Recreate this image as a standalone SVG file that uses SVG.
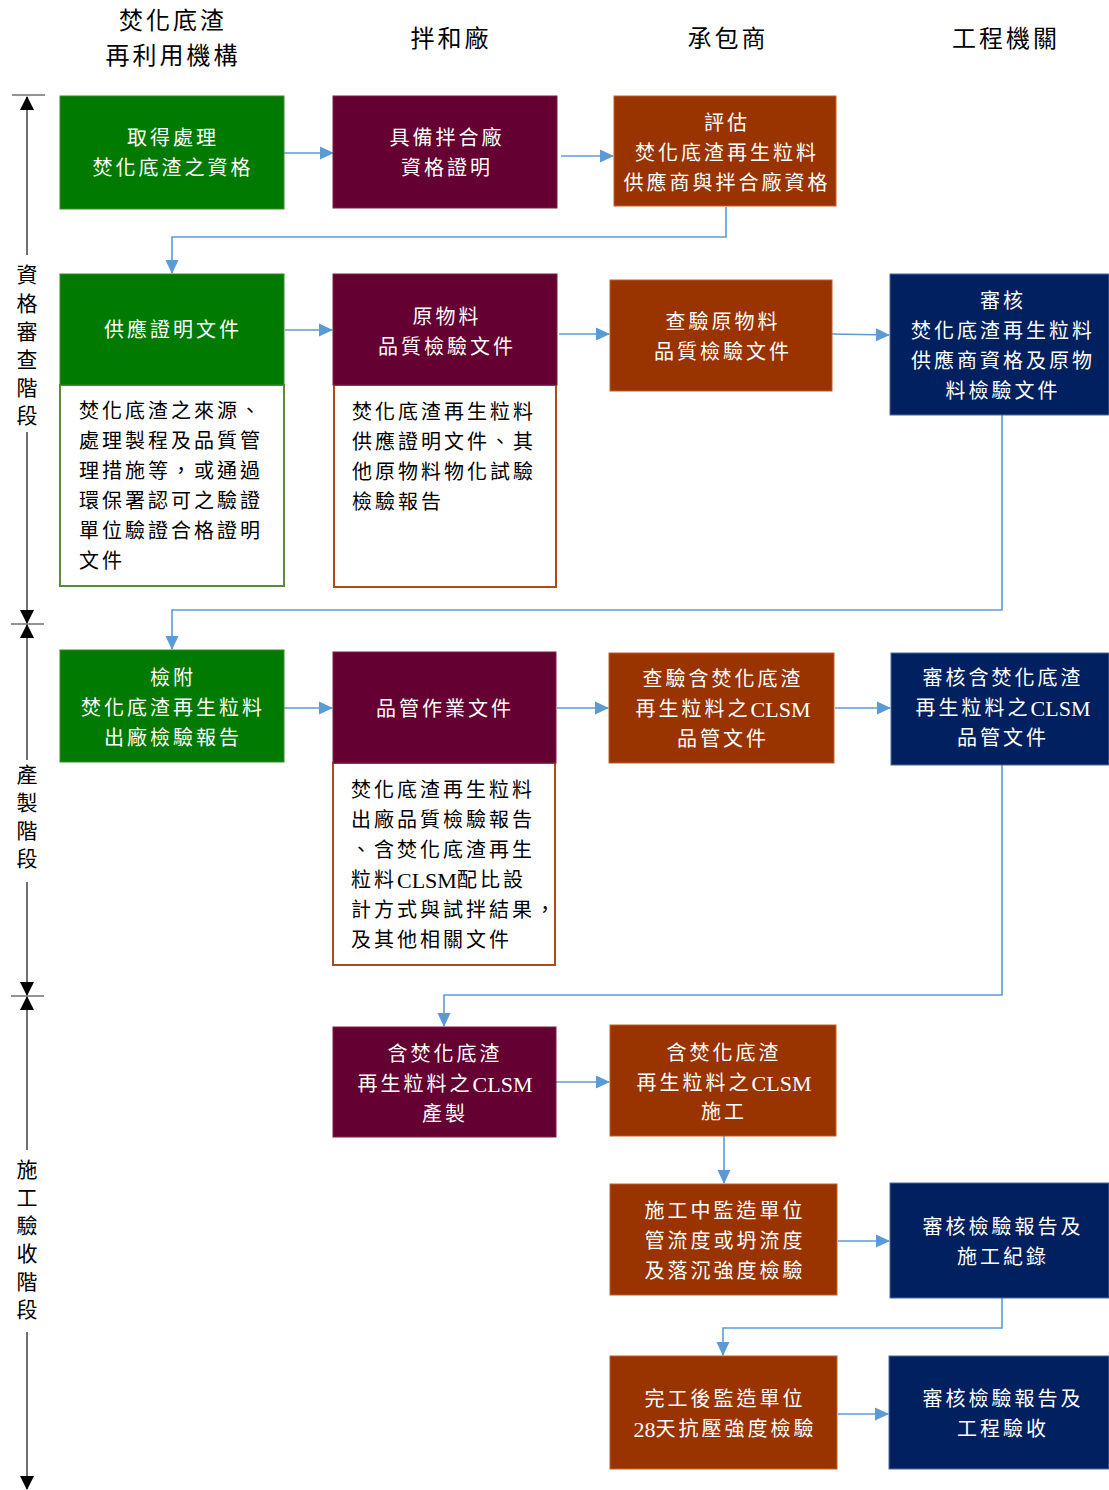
<svg xmlns="http://www.w3.org/2000/svg" width="1109" height="1490" viewBox="0 0 1109 1490">
<defs>
<style>
text{font-family:"Liberation Serif","Noto Sans CJK TC",serif;}
.hd{font-size:24px;fill:#000;text-anchor:middle;letter-spacing:3px;}
.nt{font-size:20px;fill:#fff;text-anchor:middle;letter-spacing:3px;dominant-baseline:central;}
.bt{font-size:20px;fill:#000;letter-spacing:3px;dominant-baseline:central;}
.ax{font-size:21px;fill:#000;text-anchor:middle;dominant-baseline:central;}
.lt{letter-spacing:0;font-size:22px;}
.g{fill:#007A00;stroke:#3F8A2A;stroke-width:1;}
.m{fill:#640032;stroke:#7a2040;stroke-width:1;}
.o{fill:#993300;stroke:#C0602A;stroke-width:1;}
.n{fill:#00205F;stroke:#4A6AA0;stroke-width:1;}
.wg{fill:#fff;stroke:#5A8A3A;stroke-width:2;}
.wo{fill:#fff;stroke:#B04A1A;stroke-width:2;}
.c{fill:none;stroke:#5B9BD5;stroke-width:1.6;}
.axl{stroke:#707070;stroke-width:2;fill:none;}
.tk{stroke:#707070;stroke-width:1.5;}
</style>
<marker id="ar" markerWidth="14" markerHeight="14" refX="13" refY="7" orient="auto" markerUnits="userSpaceOnUse" viewBox="0 0 14 14">
<path d="M0,0.5 L14,7 L0,13.5 Z" fill="#5B9BD5"/>
</marker>
<marker id="ak" markerWidth="14" markerHeight="14" refX="13" refY="7" orient="auto" markerUnits="userSpaceOnUse" viewBox="0 0 14 14">
<path d="M0,0 L14,7 L0,14 Z" fill="#000"/>
</marker>
</defs>

<g id="headers">
<text class="hd" x="173" y="29">焚化底渣</text>
<text class="hd" x="173" y="64">再利用機構</text>
<text class="hd" x="451" y="47">拌和廠</text>
<text class="hd" x="728" y="47">承包商</text>
<text class="hd" x="1006" y="47">工程機關</text>
</g>

<g id="axis">
<line class="tk" x1="12" y1="95" x2="45" y2="95"/>
<line class="axl" x1="27" y1="255" x2="27" y2="97" marker-end="url(#ak)"/>
<text class="ax" x="27" y="275">資</text>
<text class="ax" x="27" y="304">格</text>
<text class="ax" x="27" y="332">審</text>
<text class="ax" x="27" y="360">查</text>
<text class="ax" x="27" y="388">階</text>
<text class="ax" x="27" y="416">段</text>
<line class="axl" x1="27" y1="432" x2="27" y2="623" marker-end="url(#ak)"/>
<line class="tk" x1="11" y1="624" x2="44" y2="624"/>
<line class="axl" x1="27" y1="760" x2="27" y2="625" marker-end="url(#ak)"/>
<text class="ax" x="27" y="775">產</text>
<text class="ax" x="27" y="803">製</text>
<text class="ax" x="27" y="831">階</text>
<text class="ax" x="27" y="859">段</text>
<line class="axl" x1="27" y1="882" x2="27" y2="995" marker-end="url(#ak)"/>
<line class="tk" x1="11" y1="996" x2="44" y2="996"/>
<line class="axl" x1="27" y1="1150" x2="27" y2="997" marker-end="url(#ak)"/>
<text class="ax" x="27" y="1170">施</text>
<text class="ax" x="27" y="1198">工</text>
<text class="ax" x="27" y="1226">驗</text>
<text class="ax" x="27" y="1254">收</text>
<text class="ax" x="27" y="1282">階</text>
<text class="ax" x="27" y="1310">段</text>
<line class="axl" x1="27" y1="1332" x2="27" y2="1489" marker-end="url(#ak)"/>
</g>

<g id="connectors">
<line class="c" x1="284" y1="153" x2="333" y2="153" marker-end="url(#ar)"/>
<line class="c" x1="561" y1="156" x2="613" y2="156" marker-end="url(#ar)"/>
<polyline class="c" points="726,207 726,237 172,237 172,273" marker-end="url(#ar)"/>
<line class="c" x1="285" y1="330" x2="332" y2="330" marker-end="url(#ar)"/>
<line class="c" x1="559" y1="334" x2="609" y2="334" marker-end="url(#ar)"/>
<line class="c" x1="832" y1="334" x2="889" y2="335" marker-end="url(#ar)"/>
<polyline class="c" points="1002,415 1002,610 172,610 172,649" marker-end="url(#ar)"/>
<line class="c" x1="284" y1="708" x2="332" y2="708" marker-end="url(#ar)"/>
<line class="c" x1="557" y1="708" x2="608" y2="708" marker-end="url(#ar)"/>
<line class="c" x1="835" y1="708" x2="890" y2="708" marker-end="url(#ar)"/>
<polyline class="c" points="1002,765 1002,995 444,995 444,1026" marker-end="url(#ar)"/>
<line class="c" x1="556" y1="1082" x2="609" y2="1082" marker-end="url(#ar)"/>
<line class="c" x1="724" y1="1136" x2="724" y2="1183" marker-end="url(#ar)"/>
<line class="c" x1="838" y1="1241" x2="889" y2="1241" marker-end="url(#ar)"/>
<polyline class="c" points="1002,1298 1002,1328 723,1328 723,1355" marker-end="url(#ar)"/>
<line class="c" x1="838" y1="1414" x2="888" y2="1414" marker-end="url(#ar)"/>
</g>

<g id="n1">
<rect class="g" x="60" y="96" width="224" height="113"/>
<text class="nt" x="173" y="138">取得處理</text>
<text class="nt" x="173" y="168">焚化底渣之資格</text>
</g>
<g id="n2">
<rect class="m" x="333" y="96" width="224" height="112"/>
<text class="nt" x="447" y="138">具備拌合廠</text>
<text class="nt" x="447" y="168">資格證明</text>
</g>
<g id="n3">
<rect class="o" x="614" y="96" width="222" height="110"/>
<text class="nt" x="727" y="123">評估</text>
<text class="nt" x="727" y="153">焚化底渣再生粒料</text>
<text class="nt" x="727" y="183">供應商與拌合廠資格</text>
</g>

<g id="n4">
<rect class="wg" x="60" y="385" width="224" height="201"/>
<rect class="g" x="60" y="274" width="224" height="111"/>
<text class="nt" x="173" y="330">供應證明文件</text>
<text class="bt" x="79" y="411">焚化底渣之來源、</text>
<text class="bt" x="79" y="441">處理製程及品質管</text>
<text class="bt" x="79" y="471">理措施等，或通過</text>
<text class="bt" x="79" y="501">環保署認可之驗證</text>
<text class="bt" x="79" y="531">單位驗證合格證明</text>
<text class="bt" x="79" y="561">文件</text>
</g>
<g id="n5">
<rect class="wo" x="334" y="385" width="222" height="202"/>
<rect class="m" x="333" y="274" width="224" height="111"/>
<text class="nt" x="447" y="317">原物料</text>
<text class="nt" x="447" y="347">品質檢驗文件</text>
<text class="bt" x="352" y="412">焚化底渣再生粒料</text>
<text class="bt" x="352" y="442">供應證明文件、其</text>
<text class="bt" x="352" y="472">他原物料物化試驗</text>
<text class="bt" x="352" y="502">檢驗報告</text>
</g>
<g id="n6">
<rect class="o" x="610" y="280" width="222" height="111"/>
<text class="nt" x="723" y="322">查驗原物料</text>
<text class="nt" x="723" y="352">品質檢驗文件</text>
</g>
<g id="n7">
<rect class="n" x="890" y="274" width="219" height="141"/>
<text class="nt" x="1003" y="301">審核</text>
<text class="nt" x="1003" y="331">焚化底渣再生粒料</text>
<text class="nt" x="1003" y="361">供應商資格及原物</text>
<text class="nt" x="1003" y="391">料檢驗文件</text>
</g>

<g id="n8">
<rect class="g" x="60" y="650" width="224" height="112"/>
<text class="nt" x="173" y="678">檢附</text>
<text class="nt" x="173" y="708">焚化底渣再生粒料</text>
<text class="nt" x="173" y="738">出廠檢驗報告</text>
</g>
<g id="n9">
<rect class="wo" x="333" y="763" width="222" height="202"/>
<rect class="m" x="333" y="652" width="223" height="111"/>
<text class="nt" x="445" y="709">品管作業文件</text>
<text class="bt" x="351" y="790">焚化底渣再生粒料</text>
<text class="bt" x="351" y="820">出廠品質檢驗報告</text>
<text class="bt" x="351" y="850">、含焚化底渣再生</text>
<text class="bt" x="351" y="880">粒料<tspan class="lt">CLSM</tspan>配比設</text>
<text class="bt" x="351" y="910">計方式與試拌結果，</text>
<text class="bt" x="351" y="940">及其他相關文件</text>
</g>
<g id="n10">
<rect class="o" x="609" y="653" width="225" height="110"/>
<text class="nt" x="723" y="679">查驗含焚化底渣</text>
<text class="nt" x="723" y="709">再生粒料之<tspan class="lt">CLSM</tspan></text>
<text class="nt" x="723" y="739">品管文件</text>
</g>
<g id="n11">
<rect class="n" x="891" y="653" width="218" height="112"/>
<text class="nt" x="1003" y="678">審核含焚化底渣</text>
<text class="nt" x="1003" y="708">再生粒料之<tspan class="lt">CLSM</tspan></text>
<text class="nt" x="1003" y="738">品管文件</text>
</g>

<g id="n12">
<rect class="m" x="333" y="1027" width="223" height="110"/>
<text class="nt" x="445" y="1054">含焚化底渣</text>
<text class="nt" x="445" y="1084">再生粒料之<tspan class="lt">CLSM</tspan></text>
<text class="nt" x="445" y="1114">產製</text>
</g>
<g id="n13">
<rect class="o" x="610" y="1025" width="226" height="111"/>
<text class="nt" x="724" y="1053">含焚化底渣</text>
<text class="nt" x="724" y="1083">再生粒料之<tspan class="lt">CLSM</tspan></text>
<text class="nt" x="724" y="1112">施工</text>
</g>
<g id="n14">
<rect class="o" x="610" y="1184" width="227" height="111"/>
<text class="nt" x="725" y="1211">施工中監造單位</text>
<text class="nt" x="725" y="1241">管流度或坍流度</text>
<text class="nt" x="725" y="1271">及落沉強度檢驗</text>
</g>
<g id="n15">
<rect class="n" x="890" y="1183" width="219" height="115"/>
<text class="nt" x="1003" y="1227">審核檢驗報告及</text>
<text class="nt" x="1003" y="1257">施工紀錄</text>
</g>
<g id="n16">
<rect class="o" x="610" y="1356" width="227" height="113"/>
<text class="nt" x="725" y="1399">完工後監造單位</text>
<text class="nt" x="725" y="1429"><tspan class="lt">28</tspan>天抗壓強度檢驗</text>
</g>
<g id="n17">
<rect class="n" x="889" y="1356" width="220" height="113"/>
<text class="nt" x="1003" y="1399">審核檢驗報告及</text>
<text class="nt" x="1003" y="1429">工程驗收</text>
</g>
</svg>
